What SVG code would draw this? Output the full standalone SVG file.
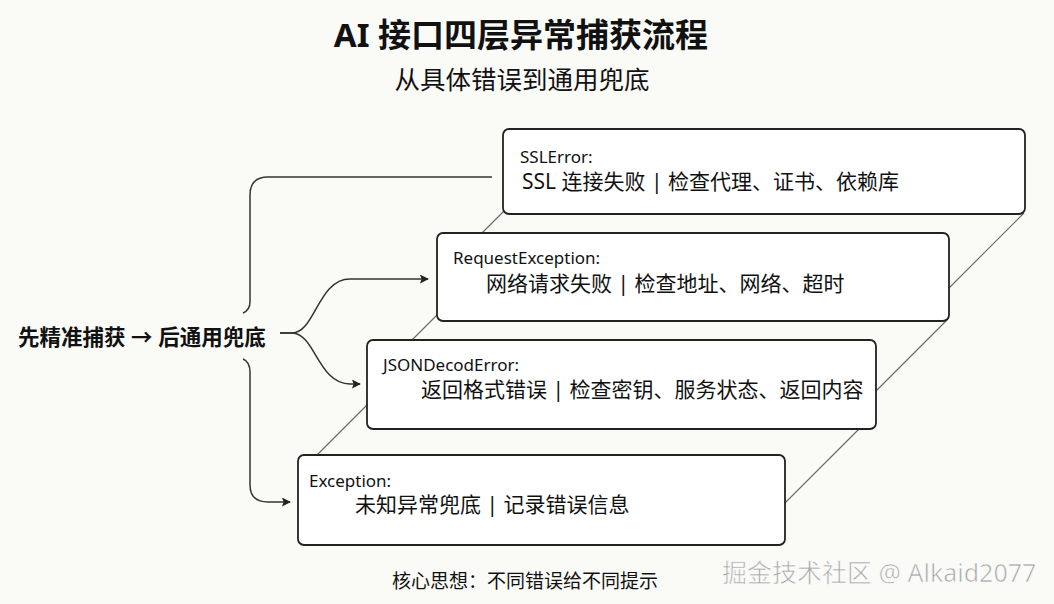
<svg xmlns="http://www.w3.org/2000/svg" width="1054" height="604" viewBox="0 0 1054 604">
<defs>
<marker id="arr" viewBox="0 0 10 10" refX="9" refY="5" markerWidth="9" markerHeight="9" markerUnits="userSpaceOnUse" orient="auto">
<path d="M0,0 L10,5 L0,10 L2,5 Z" fill="#222"/>
</marker>
<style>
text{font-family:"Noto Sans","Noto Sans CJK SC",sans-serif;fill:#111}
.box{fill:#fff;stroke:#222;stroke-width:1.8}
.lbl{font-size:17px}
.desc{font-size:21px}
.guide{stroke:#666;stroke-width:1.1;fill:none}
.conn{stroke:#333;stroke-width:1.5;fill:none}
</style>
</defs>
<rect width="1054" height="604" fill="#fafaf7"/>
<text x="521" y="47" text-anchor="middle" font-size="33" font-weight="bold">AI 接口四层异常捕获流程</text>
<text x="522" y="89" text-anchor="middle" font-size="25.5">从具体错误到通用兜底</text>
<g id="guides">
<line class="guide" x1="505" y1="210" x2="470" y2="245"/>
<line class="guide" x1="439" y1="313" x2="400" y2="352"/>
<line class="guide" x1="369" y1="403" x2="317" y2="455"/>
<line class="guide" x1="1024" y1="213" x2="940" y2="297"/>
<line class="guide" x1="947" y1="320" x2="868" y2="399"/>
<line class="guide" x1="860" y1="428" x2="778" y2="510"/>
</g>
<g id="connectors">
<path class="conn" d="M492,177 L268,177 Q250,177 250,195 L250,302 Q250,310 243,313"/>
<path class="conn" d="M243,359 Q250,362 250,372 L250,485 Q250,502 268,502 L290,502" marker-end="url(#arr)"/>
<path class="conn" d="M280,333 L292,333 C315,333 318,279 350,279 L428,279" marker-end="url(#arr)"/>
<path class="conn" d="M280,333 L292,333 C315,333 318,384 350,384 L360,384" marker-end="url(#arr)"/>
</g>
<text x="18" y="345" font-size="21.5" font-weight="bold">先精准捕获 → 后通用兜底</text>
<g id="ssl">
<rect class="box" x="503" y="129" width="522" height="85" rx="6"/>
<text class="lbl" x="520" y="163">SSLError:</text>
<text class="desc" x="522" y="189">SSL 连接失败 | 检查代理、证书、依赖库</text>
</g>
<g id="request">
<rect class="box" x="437" y="233" width="512" height="88" rx="6"/>
<text class="lbl" x="453" y="264">RequestException:</text>
<text class="desc" x="486" y="291">网络请求失败 | 检查地址、网络、超时</text>
</g>
<g id="json">
<rect class="box" x="367" y="340" width="509" height="89" rx="6"/>
<text class="lbl" x="383" y="371">JSONDecodError:</text>
<text class="desc" x="421" y="397">返回格式错误 | 检查密钥、服务状态、返回内容</text>
</g>
<g id="exception">
<rect class="box" x="298" y="455" width="487" height="90" rx="6"/>
<text class="lbl" x="309" y="487">Exception:</text>
<text class="desc" x="355" y="512">未知异常兜底 | 记录错误信息</text>
</g>
<text x="392" y="588" font-size="19">核心思想：不同错误给不同提示</text>
<text x="722" y="582" font-size="25" style="fill:#a8a8a8;stroke:#fff;stroke-width:0.6">掘金技术社区 @ Alkaid2077</text>
</svg>
